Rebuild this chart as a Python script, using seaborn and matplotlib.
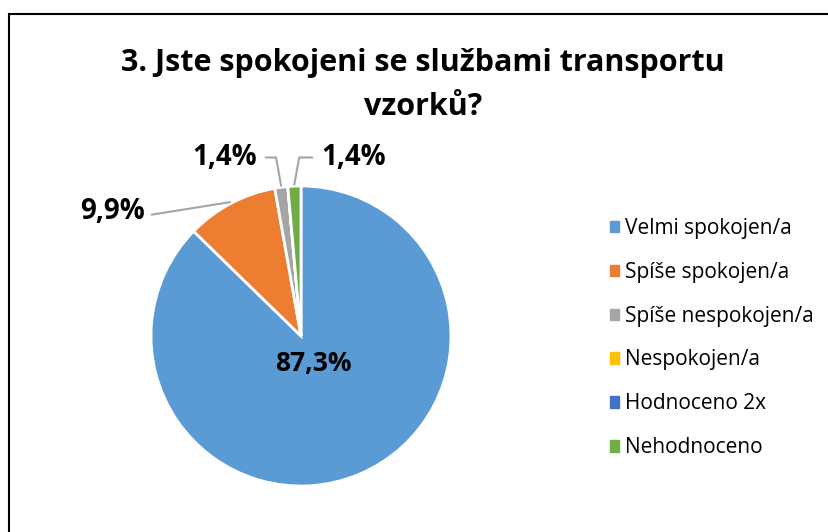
import numpy as np
import matplotlib
matplotlib.use('Agg')
import matplotlib.pyplot as plt
import seaborn as sns
from matplotlib.patches import Rectangle

# data
title = '3. Jste spokojeni se službami transportu\nvzorků?'
categories = ['Velmi spokojen/a', 'Spíše spokojen/a', 'Spíše nespokojen/a',
              'Nespokojen/a', 'Hodnoceno 2x', 'Nehodnoceno']
values = [87.3, 9.9, 1.4, 0.0, 0.0, 1.4]
colors = ['#5B9BD5', '#ED7D31', '#A5A5A5', '#FFC000', '#4472C4', '#70AD47']

sns.set_theme(style='white')
plt.rcParams['font.family'] = ['Open Sans', 'DejaVu Sans']
plt.rcParams['text.color'] = 'black'

fig = plt.figure(figsize=(8.29, 5.32), dpi=100)

# chart frame (only top and left edges visible in the crop)
fig.patches.append(Rectangle((9 / 829, -0.1), 1.2, 1 - 14 / 532 + 0.1,
                             transform=fig.transFigure, fill=False,
                             edgecolor='black', linewidth=1.5))

fig.text(0.51, 1 - 85 / 532, title, ha='center', va='center',
         fontsize=22, fontweight='bold', linespacing=1.6, color='black')

cx, cy, r = 301 / 829, 1 - 336 / 532, 150
ax = fig.add_axes([cx - r / 829, cy - r / 532, 2 * r / 829, 2 * r / 532])
wedges, _ = ax.pie(values, colors=colors, startangle=90, counterclock=False,
                   wedgeprops=dict(edgecolor='white', linewidth=2))
ax.set_xlim(-1, 1)
ax.set_ylim(-1, 1)
ax.set_aspect('equal')
ax.axis('off')

# data labels
label_pos = {0: (0.08, -0.18), 1: (-1.26, 0.83), 2: (-0.51, 1.19), 5: (0.35, 1.19)}
for i, (tx, ty) in label_pos.items():
    txt = f'{values[i]:.1f}%'.replace('.', ',')
    if i == 0:
        ax.text(tx, ty, txt, ha='center', va='center', fontsize=19,
                fontweight='bold', color='black')
        continue
    w = wedges[i]
    mid = np.deg2rad((w.theta1 + w.theta2) / 2)
    xy = (np.cos(mid) * 1.01, np.sin(mid) * 1.01)
    if i == 1:
        ax.annotate(txt, xy=xy, xytext=(tx, ty), ha='center', va='center',
                    fontsize=20, fontweight='bold', annotation_clip=False,
                    arrowprops=dict(arrowstyle='-', color='#A5A5A5', lw=1.5,
                                    relpos=(1.0, 0.35), shrinkA=3, shrinkB=0))
    else:
        rel = (1.0, 0.5) if tx < 0 else (0.0, 0.5)
        ang = 100 if tx < 0 else 80
        ax.annotate(txt, xy=xy, xytext=(tx, ty), ha='center', va='center',
                    fontsize=20, fontweight='bold', annotation_clip=False,
                    arrowprops=dict(arrowstyle='-', color='#A5A5A5', lw=1.5,
                                    relpos=rel, shrinkA=4, shrinkB=0,
                                    connectionstyle=f'angle,angleA=0,angleB={ang},rad=0'))

handles = [plt.Rectangle((0, 0), 1, 1, color=c) for c in colors]
fig.legend(handles, categories, loc='upper left', bbox_to_anchor=(591 / 829, 1 - 199 / 532),
           frameon=False, fontsize=15, handlelength=0.45, handleheight=0.45,
           handletextpad=0.3, labelspacing=1.1, labelcolor='black')

fig.savefig('out.png', dpi=100)
